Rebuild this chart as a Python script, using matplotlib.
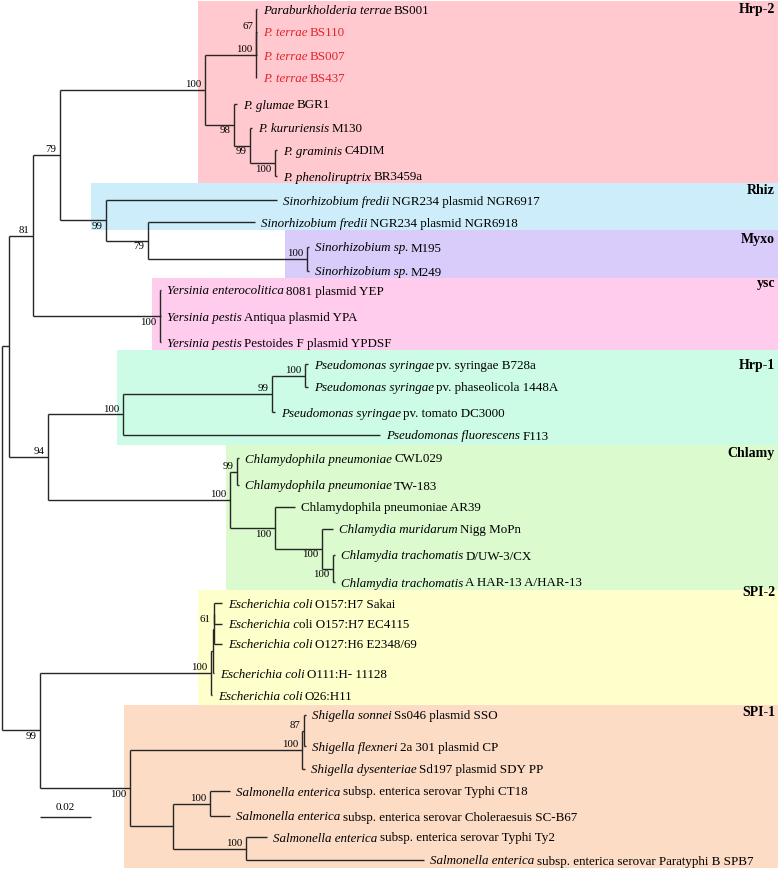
import matplotlib
matplotlib.use("Agg")
import matplotlib.pyplot as plt
from matplotlib.patches import Rectangle

plt.rcParams['font.family'] = ['Liberation Serif', 'DejaVu Serif']

# ---------------- data ----------------
# leaf names: italic part + roman part
leaf_italic = [
    "Paraburkholderia terrae", "P. terrae", "P. terrae", "P. terrae",
    "P. glumae", "P. kururiensis", "P. graminis", "P. phenoliruptrix",
    "Sinorhizobium fredii", "Sinorhizobium fredii", "Sinorhizobium sp.", "Sinorhizobium sp.",
    "Yersinia enterocolitica", "Yersinia pestis", "Yersinia pestis",
    "Pseudomonas syringae", "Pseudomonas syringae", "Pseudomonas syringae", "Pseudomonas fluorescens",
    "Chlamydophila pneumoniae", "Chlamydophila pneumoniae", "",
    "Chlamydia muridarum", "Chlamydia trachomatis", "Chlamydia trachomatis",
    "Escherichia coli", "Escherichia c", "Escherichia coli", "Escherichia coli", "Escherichia coli",
    "Shigella sonnei", "Shigella flexneri", "Shigella dysenteriae",
    "Salmonella enterica", "Salmonella enterica", "Salmonella enterica", "Salmonella enterica",
]
leaf_roman = [
    " BS001", " BS110", " BS007", " BS437",
    " BGR1", " M130", " C4DIM", " BR3459a",
    " NGR234 plasmid NGR6917", " NGR234 plasmid NGR6918", " M195", " M249",
    " 8081 plasmid YEP", " Antiqua plasmid YPA", " Pestoides F plasmid YPDSF",
    " pv. syringae B728a", " pv. phaseolicola 1448A", " pv. tomato DC3000", " F113",
    " CWL029", " TW-183", "Chlamydophila pneumoniae AR39",
    " Nigg MoPn", " D/UW-3/CX", " A HAR-13 A/HAR-13",
    " O157:H7 Sakai", "oli O157:H7 EC4115", " O127:H6 E2348/69", " O111:H- 11128", " O26:H11",
    " Ss046 plasmid SSO", " 2a 301 plasmid CP", " Sd197 plasmid SDY PP",
    " subsp. enterica serovar Typhi CT18", " subsp. enterica serovar Choleraesuis SC-B67",
    " subsp. enterica serovar Typhi Ty2", " subsp. enterica serovar Paratyphi B SPB7",
]
highlight_leaves = [1, 2, 3]          # strains shown in red

# tree (Newick, leaves = index into the name lists, internal labels = bootstrap)
hrp2 = ("(((0:0.0002,1:0.0002,2:0.0002)67:0.0002,3:0.0002)100:0.0200,"
        "(4:0.0012,(5:0.0008,(6:0.0008,7:0.0008)100:0.0098)99:0.0063)98:0.0114)100:0.0569")
rhiz_myxo = "(8:0.0671,(9:0.0420,(10:0.0008,11:0.0008)100:0.0624)79:0.0165)99:0.0180"
ysc = "(12:0.0004,13:0.0004,14:0.0004)100:0.0498"
hrp1 = "(((15:0.0012,16:0.0012)100:0.0129,17:0.0012)99:0.0584,18:0.1008)100:0.0294"
chlamy = ("((19:0.0008,20:0.0008)99:0.0027,(21:0.0078,(22:0.0043,(23:0.0008,24:0.0008)100:0.0043)"
          "100:0.0184)100:0.0176)100:0.0714")
spi2 = "((((25:0.0031,26:0.0031)61:0.0002,27:0.0033):0.0002,28:0.0002):0.0008,29:0.0002)100:0.0671"
spi1 = ("(((30:0.0008,31:0.0008)87:0.0008,32:0.0012)100:0.0675,"
        "((33:0.0078,34:0.0078)100:0.0145,(35:0.0082,36:0.0698)100:0.0286):0.0169)100:0.0353")
newick = ("((((" + hrp2 + "," + rhiz_myxo + ")79:0.0106," + ysc + ")81:0.0094,"
          "(" + hrp1 + "," + chlamy + ")94:0.0153):0.0027,"
          "(" + spi2 + "," + spi1 + ")99:0.0149);")

clade_names = ["Hrp-2", "Rhiz", "Myxo", "ysc", "Hrp-1", "Chlamy", "SPI-2", "SPI-1"]
clade_colors = ["#FFC9CF", "#CDEDFB", "#D9CCFA", "#FFCCEE", "#CCFCE6", "#DBFACD", "#FFFFCC", "#FDDCC6"]

scale_value = 0.02

# ---------------- layout ----------------
PX = 2550.0                       # pixels per substitution unit
DPI = 100
leaf_rows = [9, 32, 55, 78, 104, 128, 150, 176, 200, 222, 247, 271, 290, 316, 342,
             364, 387, 412, 435, 458, 485, 507, 529, 555, 582,
             603, 624, 644, 673, 695, 715, 746, 769, 791, 816, 837, 860]
band_left = [0.0769, 0.0349, 0.1110, 0.0588, 0.0451, 0.0878, 0.0769, 0.0478]
band_y = [(1, 183), (183, 230), (230, 278), (278, 350), (350, 445), (445, 590), (590, 705), (705, 868)]
clade_label_y = [10, 191, 240, 284, 366, 453, 592, 713]
# side of bootstrap label relative to its branch (preorder of labelled nodes): a=above, b=below
support_side = list("aaaaabbbbbabaaaaaabbbbabbaaaa")

LEAF_FS = 9.4
GAP_PT = 4.5
SPACE_PT = 0.16 * LEAF_FS


def parse(s):
    pos = 0

    def node():
        nonlocal pos
        children = []
        if s[pos] == '(':
            pos += 1
            while True:
                children.append(node())
                if s[pos] == ',':
                    pos += 1
                    continue
                if s[pos] == ')':
                    pos += 1
                    break
        start = pos
        while s[pos] not in ':,);':
            pos += 1
        label = s[start:pos]
        bl = 0.0
        if s[pos] == ':':
            pos += 1
            start = pos
            while s[pos] not in ',);':
                pos += 1
            bl = float(s[start:pos])
        return {'label': label, 'bl': bl, 'children': children}
    return node()


root = parse(newick)


def layout(n, depth):
    n['x'] = depth + n['bl'] if n is not root else 0.0
    for c in n['children']:
        layout(c, n['x'])
    if n['children']:
        n['y'] = (n['children'][0]['y'] + n['children'][-1]['y']) / 2.0
    else:
        n['y'] = leaf_rows[int(n['label'])]


layout(root, 0.0)

fig = plt.figure(figsize=(7.78, 8.69), dpi=DPI)
ax = fig.add_axes([0, 0, 1, 1])
ax.set_xlim(-2 / PX, 776 / PX)
ax.set_ylim(869, 0)
ax.axis('off')
renderer = fig.canvas.get_renderer()

xmax = 776 / PX
for name, col, left, (y0, y1), ly in zip(clade_names, clade_colors, band_left, band_y, clade_label_y):
    ax.add_patch(Rectangle((left, y0), xmax - left + 0.01, y1 - y0, facecolor=col,
                           edgecolor='none', zorder=0))
    ax.text(773 / PX, ly, name, ha='right', va='center', fontsize=10,
            fontweight='bold', zorder=3)

LC = '#262626'
LW = 1.0
side_iter = iter(support_side)


def draw(n):
    if n['children']:
        ys = [c['y'] for c in n['children']]
        ax.plot([n['x'], n['x']], [min(ys), max(ys)], color=LC, lw=LW,
                solid_capstyle='butt', zorder=2)
        for c in n['children']:
            ax.plot([n['x'], c['x']], [c['y'], c['y']], color=LC, lw=LW,
                    solid_capstyle='butt', zorder=2)
        if n['label']:
            side = next(side_iter)
            if side == 'a':
                ax.annotate(n['label'], (n['x'], n['y']), xytext=(-2.5, 0.6),
                            textcoords='offset points', ha='right', va='bottom',
                            fontsize=7.8, zorder=3)
            else:
                ax.annotate(n['label'], (n['x'], n['y']), xytext=(-2.5, -1.2),
                            textcoords='offset points', ha='right', va='top',
                            fontsize=7.8, zorder=3)
        for c in n['children']:
            draw(c)
    else:
        i = int(n['label'])
        color = '#E3242B' if i in highlight_leaves else 'black'
        off = GAP_PT
        it = leaf_italic[i]
        if it:
            t = ax.annotate(it, (n['x'], n['y']), xytext=(off, 0), textcoords='offset points',
                            ha='left', va='center_baseline', fontsize=LEAF_FS,
                            fontstyle='italic', color=color, zorder=3)
            bb = t.get_window_extent(renderer)
            off += bb.width * 72.0 / DPI
        rm = leaf_roman[i]
        if rm.startswith(" "):
            off += SPACE_PT
            rm = rm.strip()
        ax.annotate(rm, (n['x'], n['y']), xytext=(off, 0), textcoords='offset points',
                    ha='left', va='center_baseline', fontsize=LEAF_FS, color=color, zorder=3)


draw(root)

# scale bar
sx = 38 / PX
ax.plot([sx, sx + scale_value], [817, 817], color=LC, lw=LW, solid_capstyle='butt')
ax.text(sx + scale_value / 2, 812, f"{scale_value:.2f}", ha='center', va='bottom', fontsize=8)

fig.savefig("out.png", dpi=DPI)
